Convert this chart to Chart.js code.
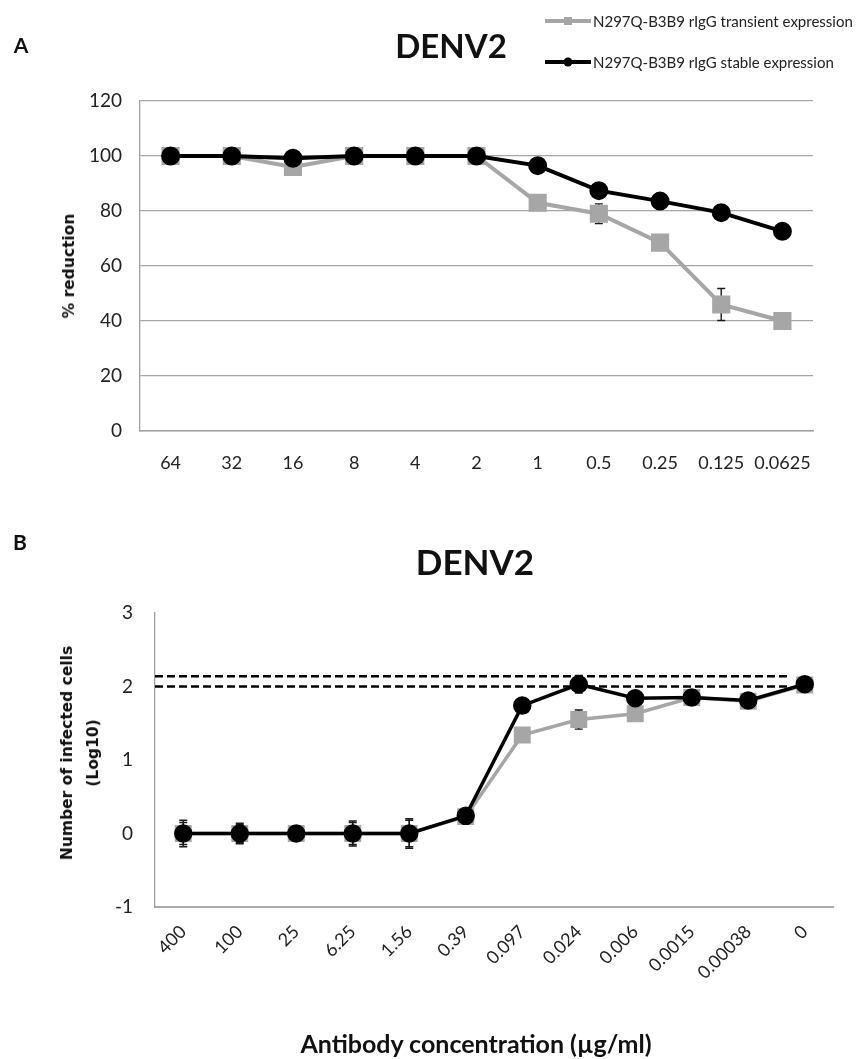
<!DOCTYPE html>
<html>
<head>
<meta charset="utf-8">
<script src="https://cdn.jsdelivr.net/npm/chart.js@4.4.1/dist/chart.umd.min.js"></script>
<style>
  html, body { margin: 0; padding: 0; background: #fff; }
  #wrap { position: relative; width: 868px; height: 1059px; overflow: hidden; }
  canvas { position: absolute; left: 0; }
  .txt { position: absolute; white-space: nowrap; color: #111; transform: translate(-50%, -50%); }
  .panel { font: bold 21px Lato, sans-serif; }
  .title { font-family: Lato, sans-serif; font-weight: bold; }
  .ytitle { font: bold 15.5px "DejaVu Sans", sans-serif; text-align: center; line-height: 26px;
            transform: translate(-50%, -50%) rotate(-90deg); }
  .xtitle { font: bold 25px Lato, sans-serif; }
  .legend { position: absolute; left: 545px; font: 15px Lato, sans-serif; color: #222;
            display: flex; align-items: center; transform: translateY(-50%); }
  .legend svg { margin-right: 2px; }
</style>
</head>
<body>
<div id="wrap">
  <canvas id="chartA" width="868" height="500" style="top:0"></canvas>
  <canvas id="chartB" width="868" height="559" style="top:500px"></canvas>

  <div class="txt panel" style="left:21px; top:44px">A</div>
  <div class="txt title" style="left:451px; top:45px; font-size:33px">DENV2</div>
  <div class="legend" style="top:21px">
    <svg width="46" height="12"><line x1="0" y1="6" x2="46" y2="6" stroke="#a6a6a6" stroke-width="4"/><rect x="19" y="2" width="8" height="8" fill="#a6a6a6"/></svg>
    <span>N297Q-B3B9 rIgG transient expression</span>
  </div>
  <div class="legend" style="top:62px">
    <svg width="46" height="12"><line x1="0" y1="6" x2="46" y2="6" stroke="#000" stroke-width="4"/><circle cx="23" cy="6" r="4.5" fill="#000"/></svg>
    <span>N297Q-B3B9 rIgG stable expression</span>
  </div>
  <div class="txt ytitle" style="left:69px; top:266px">% reduction</div>

  <div class="txt panel" style="left:20px; top:541px">B</div>
  <div class="txt title" style="left:475px; top:561px; font-size:35px">DENV2</div>
  <div class="txt ytitle" style="left:80px; top:753px">Number of infected cells<br>(Log10)</div>
  <div class="txt xtitle" style="left:476px; top:1043px">Antibody concentration (µg/ml)</div>
</div>

<script>
// ---- data: panel A (% reduction) ----
const concA = ['64', '32', '16', '8', '4', '2', '1', '0.5', '0.25', '0.125', '0.0625'];
const transientA = [100, 100, 96, 100, 100, 100, 83, 79, 68.5, 46, 40];
const stableA = [100, 100, 99.2, 100, 100, 100, 96.5, 87.4, 83.6, 79.4, 72.6];
const transientErrA = [0, 0, 0, 0, 0, 0, 0, 3.6, 0, 5.8, 0];
const stableErrA = [0, 0, 0, 0, 0, 0, 0, 0, 0, 0, 0];
const ticksA = [0, 20, 40, 60, 80, 100, 120];

// ---- data: panel B (infected cells, log10) ----
const concB = ['400', '100', '25', '6.25', '1.56', '0.39', '0.097', '0.024', '0.006', '0.0015', '0.00038', '0'];
const transientB = [0, 0, 0, 0, 0, 0.23, 1.34, 1.55, 1.63, 1.85, 1.8, 2.02];
const stableB = [0, 0, 0, 0, 0, 0.24, 1.74, 2.03, 1.84, 1.85, 1.81, 2.03];
const transientErrB = [0.15, 0.12, 0, 0.15, 0.18, 0, 0, 0.13, 0, 0, 0, 0];
const stableErrB = [0.18, 0.14, 0.03, 0.17, 0.2, 0, 0, 0.12, 0.08, 0, 0, 0];
const cutoffB = [2.14, 2.0];   // dashed reference levels
const ticksB = [-1, 0, 1, 2, 3];

const GRAY = '#a6a6a6';
const AXIS = '#a0a0a0';
Chart.defaults.font.family = 'Lato, sans-serif';
Chart.defaults.color = '#222';

// error bars drawn under the markers, through the y scale
const errorBars = {
  id: 'errorBars',
  beforeDatasetsDraw(chart) {
    const ctx = chart.ctx;
    const y = chart.scales.y;
    ctx.save();
    ctx.strokeStyle = '#1a1a1a';
    ctx.lineWidth = 1.4;
    chart.data.datasets.forEach((ds, di) => {
      if (!ds.errors) return;
      chart.getDatasetMeta(di).data.forEach((pt, i) => {
        const e = ds.errors[i];
        if (!e) return;
        const top = y.getPixelForValue(ds.data[i] + e);
        const bot = y.getPixelForValue(ds.data[i] - e);
        ctx.beginPath();
        ctx.moveTo(pt.x, top); ctx.lineTo(pt.x, bot);
        ctx.moveTo(pt.x - 4, top); ctx.lineTo(pt.x + 4, top);
        ctx.moveTo(pt.x - 4, bot); ctx.lineTo(pt.x + 4, bot);
        ctx.stroke();
      });
    });
    ctx.restore();
  }
};

// dashed horizontal reference lines for panel B
const cutoffLines = {
  id: 'cutoffLines',
  beforeDatasetsDraw(chart, args, opts) {
    if (!opts.levels) return;
    const ctx = chart.ctx;
    const x0 = chart.chartArea.left;
    const x1 = chart.scales.x.getPixelForValue(opts.endIndex);
    ctx.save();
    ctx.strokeStyle = '#000';
    ctx.lineWidth = 2.5;
    ctx.setLineDash([8, 4]);
    opts.levels.forEach(v => {
      const yy = chart.scales.y.getPixelForValue(v);
      ctx.beginPath();
      ctx.moveTo(x0, yy); ctx.lineTo(x1, yy);
      ctx.stroke();
    });
    ctx.restore();
  }
};

// panel A
new Chart(document.getElementById('chartA'), {
  type: 'line',
  data: {
    labels: concA,
    datasets: [{
      label: 'N297Q-B3B9 rIgG transient expression',
      data: transientA,
      errors: transientErrA,
      borderColor: GRAY,
      backgroundColor: GRAY,
      borderWidth: 4,
      pointStyle: 'rect',
      pointRadius: 10,
      order: 1
    }, {
      label: 'N297Q-B3B9 rIgG stable expression',
      data: stableA,
      errors: stableErrA,
      borderColor: '#000',
      backgroundColor: '#000',
      borderWidth: 4,
      pointStyle: 'circle',
      pointRadius: 7.5,
      order: 0
    }]
  },
  options: {
    responsive: false,
    animation: false,
    devicePixelRatio: 1,
    layout: { padding: { top: 101, right: 55, left: 0, bottom: 0 } },
    plugins: { legend: { display: false }, tooltip: { enabled: false } },
    scales: {
      x: {
        offset: true,
        grid: { display: false, drawTicks: false },
        border: { color: AXIS, width: 1.5 },
        ticks: { padding: 21, font: { size: 18 }, maxRotation: 0, autoSkip: false },
        afterFit: s => { s.height = 69; }
      },
      y: {
        min: 0,
        max: 120,
        afterBuildTicks: s => { s.ticks = ticksA.map(v => ({ value: v })); },
        grid: { color: GRAY, lineWidth: 1.3, drawTicks: false },
        border: { color: AXIS, width: 1.3 },
        ticks: { padding: 18, font: { size: 19 } },
        afterFit: s => { s.width = 140; }
      }
    }
  },
  plugins: [errorBars]
});

// panel B
new Chart(document.getElementById('chartB'), {
  type: 'line',
  data: {
    labels: concB,
    datasets: [{
      label: 'N297Q-B3B9 rIgG transient expression',
      data: transientB,
      errors: transientErrB,
      borderColor: GRAY,
      backgroundColor: GRAY,
      borderWidth: 3.5,
      pointStyle: 'rect',
      pointRadius: 9.5,
      order: 1
    }, {
      label: 'N297Q-B3B9 rIgG stable expression',
      data: stableB,
      errors: stableErrB,
      borderColor: '#000',
      backgroundColor: '#000',
      borderWidth: 3.5,
      pointStyle: 'circle',
      pointRadius: 7.5,
      order: 0
    }]
  },
  options: {
    responsive: false,
    animation: false,
    devicePixelRatio: 1,
    layout: { padding: { top: 113, right: 35, left: 0, bottom: 0 } },
    plugins: {
      legend: { display: false },
      tooltip: { enabled: false },
      cutoffLines: { levels: cutoffB, endIndex: 10.7 }
    },
    scales: {
      x: {
        offset: true,
        grid: { display: false, drawTicks: false },
        border: { color: '#aaa', width: 2 },
        ticks: { padding: 14, font: { size: 18 }, minRotation: 45, maxRotation: 45, autoSkip: false },
        afterFit: s => { s.height = 152; }
      },
      y: {
        min: -1,
        max: 3,
        afterBuildTicks: s => { s.ticks = ticksB.map(v => ({ value: v })); },
        grid: { display: false, drawTicks: false },
        border: { color: AXIS, width: 1.3 },
        ticks: { padding: 22, font: { size: 19 } },
        afterFit: s => { s.width = 155; }
      }
    }
  },
  plugins: [cutoffLines, errorBars]
});
</script>
</body>
</html>
